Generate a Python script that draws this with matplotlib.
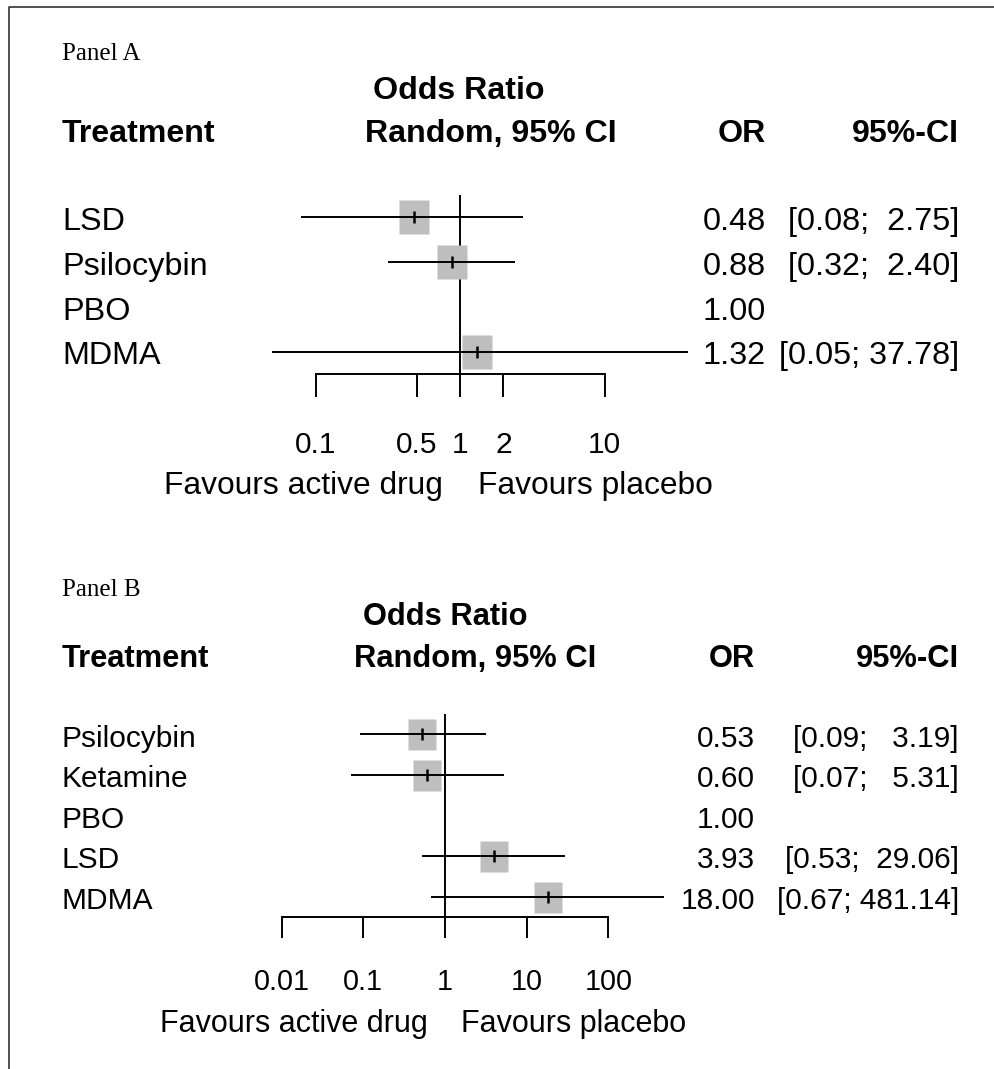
import numpy as np
import matplotlib
matplotlib.use('Agg')
import matplotlib.pyplot as plt
import matplotlib.transforms as mtransforms
from matplotlib.path import Path
from matplotlib.lines import Line2D
from matplotlib.ticker import NullLocator
from matplotlib import font_manager

# ---- data, panel A ----
a_treat = ['LSD', 'Psilocybin', 'PBO', 'MDMA']
a_or = [0.48, 0.88, 1.00, 1.32]
a_lo = [0.08, 0.32, np.nan, 0.05]
a_hi = [2.75, 2.40, np.nan, 37.78]
a_ticks = [0.1, 0.5, 1, 2, 10]
a_ticklabels = ['0.1', '0.5', '1', '2', '10']

# ---- data, panel B ----
b_treat = ['Psilocybin', 'Ketamine', 'PBO', 'LSD', 'MDMA']
b_or = [0.53, 0.60, 1.00, 3.93, 18.00]
b_lo = [0.09, 0.07, np.nan, 0.53, 0.67]
b_hi = [3.19, 5.31, np.nan, 29.06, 481.14]
b_ticks = [0.01, 0.1, 1, 10, 100]
b_ticklabels = ['0.01', '0.1', '1', '10', '100']

W, H = 995, 1069

names = {f.name for f in font_manager.fontManager.ttflist}
if 'Liberation Sans Narrow' in names:
    SANS, k = 'Liberation Sans Narrow', 1.0
else:
    SANS, k = 'Liberation Sans', 0.88
plt.rcParams['font.family'] = [SANS, 'DejaVu Sans']


def fx(px):
    return px / W


def fy(py):
    return 1 - py / H


def ci_text(lo, hi):
    w = max(len(f'{v:.2f}') for v in hi if np.isfinite(v))
    out = []
    for l, h in zip(lo, hi):
        out.append(f'[{l:.2f}; {h:{w}.2f}]' if np.isfinite(l) else '')
    return out


fig = plt.figure(figsize=(W / 100, H / 100), dpi=100)

# frame
fig.add_artist(Line2D([fx(9), fx(9), 1], [0, fy(7), fy(7)],
                      transform=fig.transFigure, color='#222222', lw=1.1))


def panel(label, treat, orv, lo, hi, ticks, ticklabels, L):
    n = len(treat)
    orv, lo, hi = np.array(orv), np.array(lo), np.array(hi)
    y = np.arange(n)
    left, right = 150, 800
    ax = fig.add_axes([fx(left), fy(L['top'] + n * L['row_h']),
                       (right - left) / W, n * L['row_h'] / H])
    ax.set_xscale('log')
    ax.set_xlim(10 ** ((left - L['one_x']) / L['dec']),
                10 ** ((right - L['one_x']) / L['dec']))
    ax.set_ylim(n - 0.5, -0.5)
    ax.patch.set_visible(False)

    ax.axvline(1, color='black', lw=1.4, zorder=1)
    m = np.isfinite(lo)
    r = L['box_w'] / L['box_h']
    box = Path([(-r, -1), (r, -1), (r, 1), (-r, 1), (-r, -1)],
               [Path.MOVETO, Path.LINETO, Path.LINETO, Path.LINETO, Path.CLOSEPOLY])
    ax.plot(orv[m], y[m], ls='none', marker=box, ms=L['box_h'] * 0.72,
            mfc='#bebebe', mec='none', zorder=2)
    ax.hlines(y[m], lo[m], hi[m], color='black', lw=1.4, zorder=3)
    ax.plot(orv[m], y[m], ls='none', marker='|', ms=8, mew=1.8,
            color='black', zorder=4)

    for s in ['top', 'left', 'right']:
        ax.spines[s].set_visible(False)
    ax.spines['bottom'].set_bounds(ticks[0], ticks[-1])
    ax.spines['bottom'].set_linewidth(1.4)
    ax.set_xticks(ticks, ticklabels)
    ax.xaxis.set_minor_locator(NullLocator())
    ax.tick_params(axis='x', direction='out', length=L['tick_len'] * 0.72,
                   width=1.4, pad=L['tick_pad'] * 0.72, labelsize=L['fs_tick'] * k)
    ax.set_yticks([])

    # row texts
    tr = mtransforms.blended_transform_factory(fig.transFigure, ax.transData)
    tr = tr + mtransforms.ScaledTranslation(0, -L['base_off'] / 100, fig.dpi_scale_trans)
    cis = ci_text(lo, hi)
    for i in range(n):
        ax.text(fx(62), i, treat[i], transform=tr, ha='left', va='baseline',
                fontsize=L['fs'] * k)
        ax.text(fx(L['or_x']), i, f'{orv[i]:.2f}', transform=tr, ha='right',
                va='baseline', fontsize=L['fs'] * k)
        ax.text(fx(959), i, cis[i], transform=tr, ha='right', va='baseline',
                fontsize=L['fs'] * k)

    # headers
    fig.text(fx(62), fy(L['label_y']), label, family='Liberation Serif',
             fontsize=18, ha='left', va='baseline')
    hb = dict(fontsize=L['fs_b'] * k, fontweight='bold', va='baseline')
    fig.text(fx(L['odds_x']), fy(L['title_y']), 'Odds Ratio', ha='center', **hb)
    fig.text(fx(62), fy(L['head_y']), 'Treatment', ha='left', **hb)
    fig.text(fx(L['rand_x']), fy(L['head_y']), 'Random, 95% CI', ha='center', **hb)
    fig.text(fx(L['or_x']), fy(L['head_y']), 'OR', ha='right', **hb)
    fig.text(fx(959), fy(L['head_y']), '95%-CI', ha='right', **hb)

    fig.text(fx(L['one_x'] - L['gap_l']), fy(L['fav_y']), 'Favours active drug',
             ha='right', va='baseline', fontsize=L['fs_fav'] * k)
    fig.text(fx(L['one_x'] + L['gap_r']), fy(L['fav_y']), 'Favours placebo',
             ha='left', va='baseline', fontsize=L['fs_fav'] * k)


panel('Panel A', a_treat, a_or, a_lo, a_hi, a_ticks, a_ticklabels,
      dict(top=195, row_h=44.8, one_x=460, dec=144.5, box_w=29.5, box_h=34.5,
           tick_len=23.3, tick_pad=33.4, base_off=12.5, or_x=766,
           label_y=60, title_y=99, head_y=142, odds_x=459, rand_x=491,
           fav_y=494, gap_l=17, gap_r=18, fs=26.5, fs_b=26.3, fs_tick=24.5,
           fs_fav=26))

panel('Panel B', b_treat, b_or, b_lo, b_hi, b_ticks, b_ticklabels,
      dict(top=714, row_h=40.6, one_x=445, dec=81.7, box_w=28.5, box_h=31,
           tick_len=20.7, tick_pad=30.4, base_off=12.4, or_x=755,
           label_y=596, title_y=625, head_y=667, odds_x=445, rand_x=475,
           fav_y=1032, gap_l=17, gap_r=16, fs=24.5, fs_b=25.3, fs_tick=23.5,
           fs_fav=25))

fig.savefig('out.png', dpi=100)
